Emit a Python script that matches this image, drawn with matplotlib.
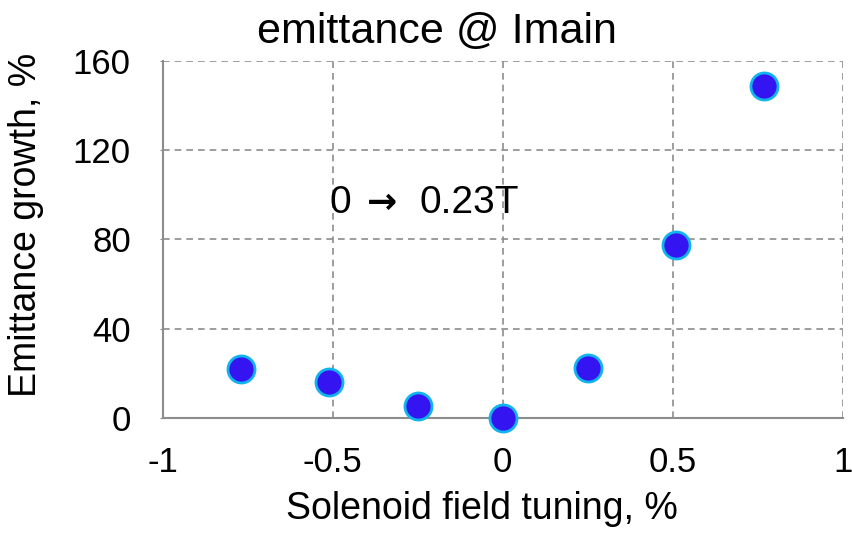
import matplotlib.pyplot as plt

plt.rcParams['font.family'] = ['Liberation Sans', 'DejaVu Sans']

# solenoid field tuning (%) vs emittance growth (%)
tuning = [-0.77, -0.51, -0.25, 0.0, 0.25, 0.51, 0.77]
growth = [22, 16, 5.4, 0, 22.4, 77.5, 148.8]

xticks = [-1, -0.5, 0, 0.5, 1]
xticklabels = ['-1', '-0.5', '0', '0.5', '1']
yticks = [0, 40, 80, 120, 160]

fig = plt.figure(figsize=(8.52, 5.34), dpi=100)
ax = fig.add_axes([0.191, 0.217, 0.798, 0.669])

ax.scatter(tuning, growth, s=380, color='#3514F2', edgecolors='#12B4EE',
           linewidths=2, zorder=3, clip_on=False)

ax.set_xlim(-1, 1)
ax.set_ylim(0, 160)
ax.set_xticks(xticks)
ax.set_xticklabels(xticklabels)
ax.set_yticks(yticks)
ax.tick_params(labelsize=25, color='#8c8c8c')
ax.tick_params(axis='y', length=2, pad=21)
ax.tick_params(axis='x', length=0, pad=20)

ax.grid(True, linestyle=(0, (4, 3)), color='#8c8c8c', linewidth=1.2)
ax.set_axisbelow(True)
for side in ['top', 'right']:
    ax.spines[side].set_visible(False)
for side in ['left', 'bottom']:
    ax.spines[side].set_color('#8c8c8c')
    ax.spines[side].set_linewidth(1.5)

ax.set_xlabel('Solenoid field tuning, %', fontsize=27)
ax.xaxis.set_label_coords(0.47, -0.205)
ax.set_ylabel('Emittance growth, %', fontsize=27)
ax.yaxis.set_label_coords(-0.174, 0.54)
ax.set_title('emittance @ Imain', fontsize=31, pad=13, x=0.403)

# field ramp note, arrow drawn heavier than the digits
ax.text(-0.51, 96.5, '0', fontsize=28, va='center', ha='left')
ax.text(-0.40, 96.5, '\u2192', fontsize=26, va='center', ha='left',
        family='DejaVu Sans', fontweight='bold')
ax.text(-0.245, 96.5, '0.23T', fontsize=28, va='center', ha='left')

fig.savefig('out.png', dpi=100)
